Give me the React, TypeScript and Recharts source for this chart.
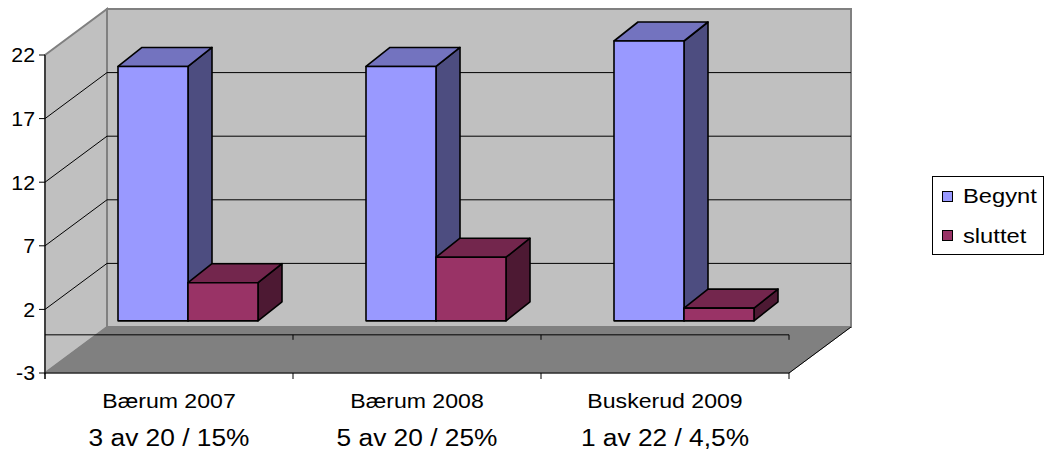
import React from "react";
import { BarChart, Bar, XAxis, YAxis } from "recharts";

const categories = ["Bærum 2007", "Bærum 2008", "Buskerud 2009"];
const subLabels = ["3 av 20 / 15%", "5 av 20 / 25%", "1 av 22 / 4,5%"];
const begynt = [20, 20, 22];
const sluttet = [3, 5, 1];
const yTicks = [-3, 2, 7, 12, 17, 22];
const gridValues = [2, 7, 12, 17];

const data = categories.map((name, i) => ({
  name,
  begynt: begynt[i],
  sluttet: sluttet[i],
}));

const W = 1045;
const H = 457;
// plot area is the plane the bar fronts sit in (axes take 1px each)
const M = { top: 41, right: 237, bottom: 97, left: 63 };
const PX0 = 64;
const PX1 = W - M.right;
const PY0 = M.top;
const PY1 = H - M.bottom - 1;
const Y_MIN = -3;
const Y_MAX = 22;

// offsets of the front plane / back wall relative to the bar plane
const FRONT = { dx: -19, dy: 14 };
const BACK = { dx: 43, dy: -32 };
// depth of a single box
const DEPTH = { dx: 24, dy: -19 };

const FONT = "'Liberation Sans', Arial, sans-serif";

const yv = (v: number) => PY1 - ((v - Y_MIN) / (Y_MAX - Y_MIN)) * (PY1 - PY0);
const yf = (v: number) => yv(v) + FRONT.dy;
const yb = (v: number) => yv(v) + BACK.dy;
const xf0 = PX0 + FRONT.dx;
const xf1 = PX1 + FRONT.dx;
const xb0 = PX0 + BACK.dx;
const xb1 = PX1 + BACK.dx;

const makeBox = (front: string, top: string, side: string) => (props: any) => {
  const { x, y, width, height } = props;
  if (height == null || width == null) return null;
  const { dx, dy } = DEPTH;
  const t = Math.min(y, y + height);
  const b = Math.max(y, y + height);
  const r = x + width;
  return (
    <g stroke="#000" strokeWidth={1.6} strokeLinejoin="round">
      <polygon points={`${r},${t} ${r + dx},${t + dy} ${r + dx},${b + dy} ${r},${b}`} fill={side} />
      <polygon points={`${x},${t} ${x + dx},${t + dy} ${r + dx},${t + dy} ${r},${t}`} fill={top} />
      <rect x={x} y={t} width={width} height={b - t} fill={front} />
    </g>
  );
};

const BegyntBox = makeBox("#9999ff", "#7373bf", "#4d4d80");
const SluttetBox = makeBox("#993366", "#73264d", "#4d1933");

function XTick(props: any) {
  const { x, payload } = props;
  const i = categories.indexOf(payload.value);
  const cx = x + FRONT.dx;
  return (
    <g fontFamily={FONT} fill="#000">
      <text transform={`translate(${cx},408) scale(1.1,1)`} textAnchor="middle" fontSize={21}>
        {payload.value}
      </text>
      <text transform={`translate(${cx},446) scale(1.12,1)`} textAnchor="middle" fontSize={23.5}>
        {subLabels[i]}
      </text>
    </g>
  );
}

function YTick(props: any) {
  const { y, payload } = props;
  const ty = y + FRONT.dy;
  return (
    <g>
      <line x1={xf0 - 6} x2={xf0} y1={ty} y2={ty} stroke="#000" strokeWidth={1} />
      <text
        transform={`translate(35,${ty}) scale(1.04,1)`}
        textAnchor="end"
        dy="0.36em"
        fontFamily={FONT}
        fontSize={20.5}
        fill="#000"
      >
        {payload.value}
      </text>
    </g>
  );
}

function Walls() {
  const bandF = (xf1 - xf0) / categories.length;
  const catX = Array.from({ length: categories.length + 1 }, (_, i) => xf0 + i * bandF);
  return (
    <svg width={W} height={H} style={{ position: "absolute", left: 0, top: 0 }}>
      {/* left wall */}
      <polygon
        points={`${xf0},${yf(Y_MAX)} ${xb0},${yb(Y_MAX)} ${xb0},${yb(Y_MIN)} ${xf0},${yf(Y_MIN)}`}
        fill="#c0c0c0"
        stroke="#808080"
        strokeWidth={2}
      />
      {/* back wall */}
      <rect
        x={xb0}
        y={yb(Y_MAX)}
        width={xb1 - xb0}
        height={yb(Y_MIN) - yb(Y_MAX)}
        fill="#c0c0c0"
        stroke="#808080"
        strokeWidth={2}
      />
      {/* floor */}
      <polygon
        points={`${xf0},${yf(Y_MIN)} ${xf1},${yf(Y_MIN)} ${xb1},${yb(Y_MIN)} ${xb0},${yb(Y_MIN)}`}
        fill="#808080"
        stroke="#808080"
      />
      <line x1={xf1} y1={yf(Y_MIN)} x2={xb1} y2={yb(Y_MIN)} stroke="#000" />
      {/* gridlines */}
      {gridValues.map((v) => (
        <g key={v} stroke="#000" strokeWidth={1}>
          <line x1={xb0} x2={xb1} y1={yb(v)} y2={yb(v)} />
          <line x1={xf0} y1={yf(v)} x2={xb0} y2={yb(v)} />
        </g>
      ))}
      {/* axes */}
      <line x1={xf0} x2={xf0} y1={yf(Y_MAX)} y2={yf(Y_MIN) + 6} stroke="#000" />
      <line x1={xf0} x2={xf1} y1={yf(Y_MIN)} y2={yf(Y_MIN)} stroke="#000" />
      <line x1={xf0} x2={xf1} y1={yf(0)} y2={yf(0)} stroke="#000" />
      {catX.map((cx, i) => (
        <g key={i} stroke="#000">
          <line x1={cx} x2={cx} y1={yf(Y_MIN)} y2={yf(Y_MIN) + 6} />
          {i > 0 && <line x1={cx} x2={cx} y1={yf(0)} y2={yf(0) + 5} />}
        </g>
      ))}
      {/* legend */}
      <rect x={932.5} y={176.5} width={111} height={78} fill="#fff" stroke="#000" />
      <rect x={942.5} y={191.5} width={10} height={10} fill="#9999ff" stroke="#000" />
      <rect x={942.5} y={230.5} width={10} height={10} fill="#993366" stroke="#000" />
      <g fontFamily={FONT} fontSize={21} fill="#000">
        <text transform="translate(963,203) scale(1.13,1)">Begynt</text>
        <text transform="translate(963,243) scale(1.13,1)">sluttet</text>
      </g>
    </svg>
  );
}

export default function App() {
  return (
    <div style={{ position: "absolute", left: 0, top: 0, width: W, height: H, background: "#fff" }}>
      <Walls />
      <div style={{ position: "absolute", left: 0, top: 0 }}>
        <BarChart width={W} height={H} data={data} margin={M} barGap={0} barSize={70}>
          <XAxis
            dataKey="name"
            height={1}
            axisLine={false}
            tickLine={false}
            interval={0}
            tick={(p: any) => <XTick {...p} />}
          />
          <YAxis
            width={1}
            type="number"
            domain={[Y_MIN, Y_MAX]}
            ticks={yTicks}
            axisLine={false}
            tickLine={false}
            tick={(p: any) => <YTick {...p} />}
          />
          <Bar dataKey="begynt" shape={BegyntBox} isAnimationActive={false} />
          <Bar dataKey="sluttet" shape={SluttetBox} isAnimationActive={false} />
        </BarChart>
      </div>
    </div>
  );
}
